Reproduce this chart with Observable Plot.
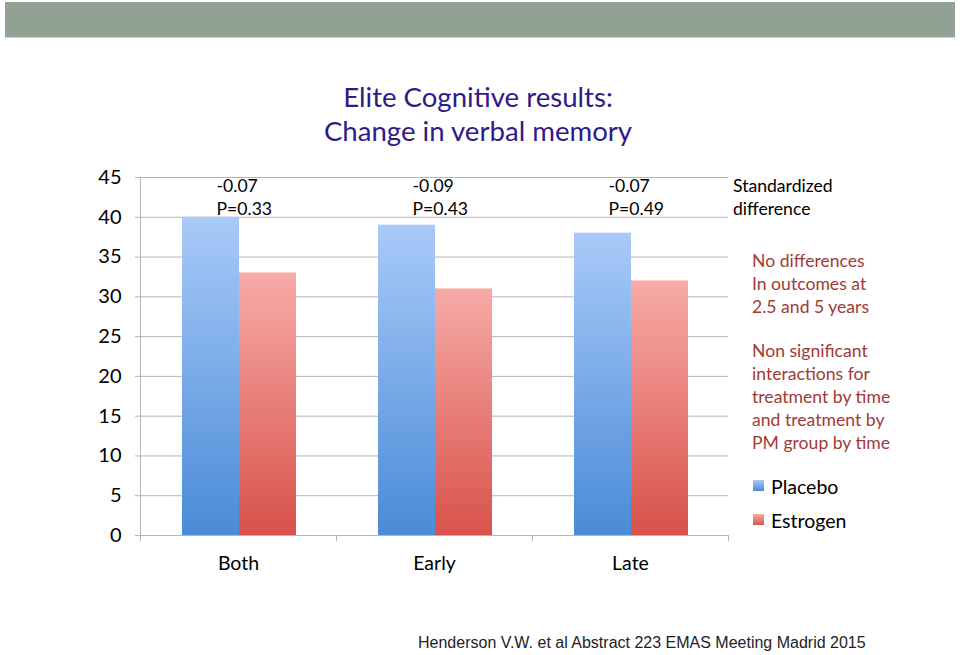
<!DOCTYPE html>
<html>
<head>
<meta charset="utf-8">
<script src="https://cdn.jsdelivr.net/npm/d3@7"></script>
<script src="https://cdn.jsdelivr.net/npm/@observablehq/plot@0.6"></script>
<style>
  body { margin: 0; background: #fff; }
  #slide { position: relative; width: 960px; height: 655px; background: #fff; overflow: hidden; font-family: Lato, "Open Sans", sans-serif; }
  .abs { position: absolute; white-space: nowrap; }
  #header { left: 5px; top: 2px; width: 950px; height: 35px; background: #91a194; border-bottom: 1px solid #c9d1c9; }
  #title { left: 278px; width: 400px; top: 80px; text-align: center; font-size: 27.6px; line-height: 34px; color: #2f1a88; }
  .note { font-size: 17.6px; line-height: 23px; }
  .red { color: #a23a35; }
  .legend { font-size: 19.5px; line-height: 22px; color: #000; }
  .sw { position: absolute; width: 11px; height: 11px; }
  #footer { left: 418px; top: 633px; font-family: "Liberation Sans", Arial, sans-serif; font-size: 16px; line-height: 20px; color: #222; }
  #chart { left: 0; top: 160px; }
</style>
</head>
<body>
<div id="slide">
  <div id="header" class="abs"></div>
  <div id="title" class="abs">Elite Cognitive results:<br>Change in verbal memory</div>
  <div id="chart" class="abs"></div>
  <div class="abs note" style="left:733px; top:174px; color:#000;">Standardized<br>difference</div>
  <div class="abs note red" style="left:752px; top:249px;">No differences<br>In outcomes at<br>2.5 and 5 years</div>
  <div class="abs note red" style="left:752px; top:339px;">Non significant<br>interactions for<br>treatment by time<br>and treatment by<br>PM group by time</div>
  <div id="legend"></div>
  <div id="footer" class="abs">Henderson V.W. et al Abstract 223 EMAS Meeting Madrid 2015</div>
</div>
<script>
// ---- data ----
const categories = ["Both", "Early", "Late"];
const placebo = [40, 39, 38];
const estrogen = [33, 31, 32];
const stdDiff = ["-0.07", "-0.09", "-0.07"];
const pValues = ["P=0.33", "P=0.43", "P=0.49"];
const yTicks = [0, 5, 10, 15, 20, 25, 30, 35, 40, 45];
const seriesNames = ["Placebo", "Estrogen"];

const rows = categories.map((c, i) => ({
  i, category: c, placebo: placebo[i], estrogen: estrogen[i],
  label: stdDiff[i] + "\n" + pValues[i]
}));

const gridColor = "#b5b5b5";

const chart = Plot.plot({
  width: 740,
  height: 430,
  marginLeft: 140,
  marginRight: 12,
  marginTop: 17,
  marginBottom: 55,
  x: { type: "linear", domain: [0, categories.length] },
  y: { domain: [0, 45] },
  style: { fontFamily: "Lato, 'Open Sans', sans-serif", color: "#000", background: "transparent", overflow: "visible" },
  marks: [
    Plot.gridY(yTicks, { stroke: gridColor, strokeOpacity: 1 }),
    Plot.axisY(yTicks, { tickSize: 5, tickPadding: 14, fontSize: 20, stroke: gridColor, fill: "#000", label: null }),
    Plot.rect(rows, { x1: "i", x2: d => d.i + 1, y1: 0, y2: "placebo", fill: "url(#gradPlacebo)", insetLeft: 42, insetRight: 97 }),
    Plot.rect(rows, { x1: "i", x2: d => d.i + 1, y1: 0, y2: "estrogen", fill: "url(#gradEstrogen)", insetLeft: 99, insetRight: 40 }),
    Plot.ruleX([0], { stroke: gridColor }),
    Plot.axisX(d3.range(categories.length + 1), { tickSize: 6, tickFormat: () => "", stroke: gridColor, label: null }),
    Plot.axisX(categories.map((c, i) => i + 0.5), { tickSize: 0, tickPadding: 21, fontSize: 19.5, tickFormat: d => categories[Math.floor(d)], label: null }),
    Plot.text(rows, { x: d => d.i + 0.5, frameAnchor: "top", text: "label", textAnchor: "start", lineAnchor: "top", dx: -22, dy: -2, fontSize: 17.6, lineHeight: 1.32, fill: "#000" })
  ]
});

// gradients for bars (per-bar, top light -> bottom darker)
const defs = d3.select(chart).insert("defs", ":first-child");
function grad(id, top, bottom) {
  const g = defs.append("linearGradient").attr("id", id).attr("x1", 0).attr("y1", 0).attr("x2", 0).attr("y2", 1);
  g.append("stop").attr("offset", "0%").attr("stop-color", top);
  g.append("stop").attr("offset", "100%").attr("stop-color", bottom);
}
grad("gradPlacebo", "#a9caf8", "#4a8bd8");
grad("gradEstrogen", "#f8aba7", "#d8524b");

document.getElementById("chart").appendChild(chart);

// legend
const legend = document.getElementById("legend");
const swatches = [
  { name: seriesNames[0], css: "linear-gradient(#a9caf8, #4a8bd8)", top: 476 },
  { name: seriesNames[1], css: "linear-gradient(#f8aba7, #d8524b)", top: 510 }
];
swatches.forEach(s => {
  const sw = document.createElement("div");
  sw.className = "sw";
  sw.style.left = "753px";
  sw.style.top = (s.top + 4) + "px";
  sw.style.background = s.css;
  legend.appendChild(sw);
  const t = document.createElement("div");
  t.className = "abs legend";
  t.style.left = "771px";
  t.style.top = s.top + "px";
  t.textContent = s.name;
  legend.appendChild(t);
});
</script>
</body>
</html>
